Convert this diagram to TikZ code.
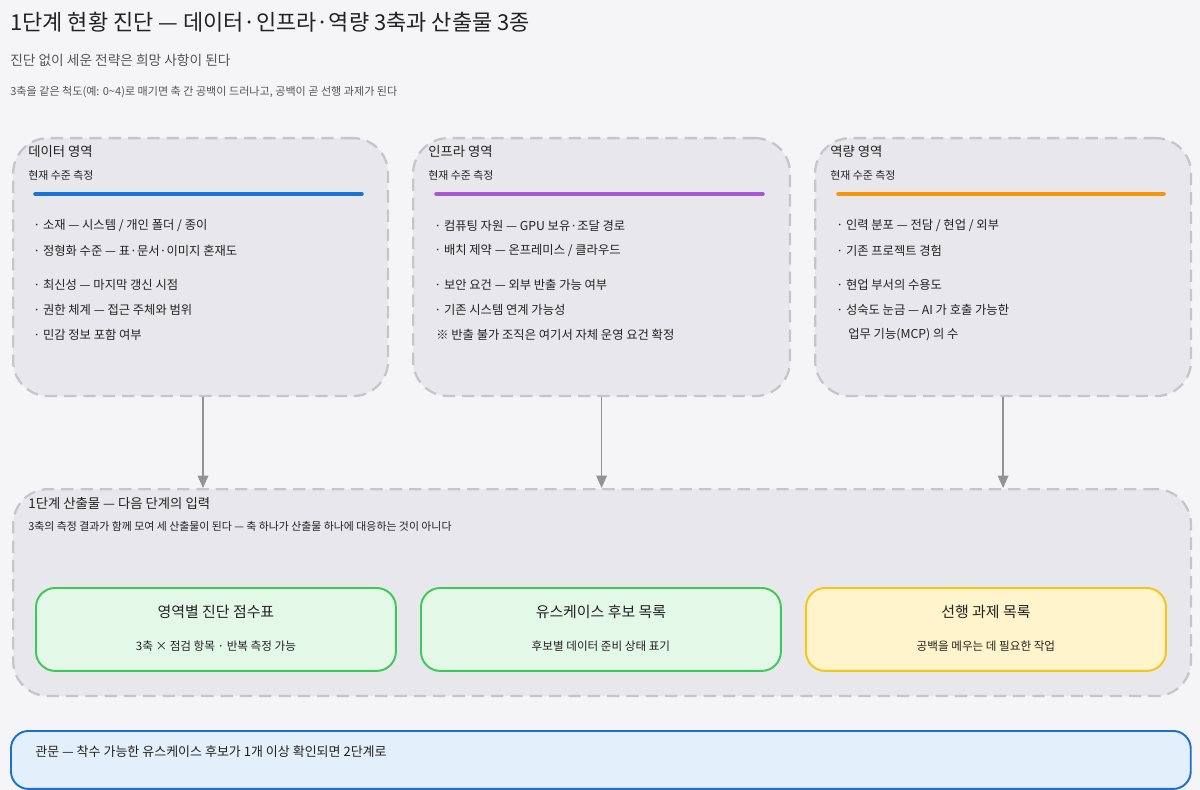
\documentclass[tikz,border=0pt]{standalone}
\usepackage{fontspec}
\setmainfont{Noto Sans CJK KR}
\usetikzlibrary{arrows.meta,positioning}
\definecolor{bg}{HTML}{F5F5F7}
\definecolor{panelfill}{HTML}{E8E8EC}
\definecolor{panelline}{HTML}{C6C6CA}
\definecolor{ink}{HTML}{222222}
\definecolor{grayink}{HTML}{555555}
\definecolor{dataline}{HTML}{1A73D9}
\definecolor{infraline}{HTML}{A855D6}
\definecolor{capline}{HTML}{F5960A}
\definecolor{greenfill}{HTML}{E3F8E6}
\definecolor{greenline}{HTML}{3CC85A}
\definecolor{yellowfill}{HTML}{FFF4CC}
\definecolor{yellowline}{HTML}{F5C518}
\definecolor{gatefill}{HTML}{E3F0FC}
\definecolor{gateline}{HTML}{1A6FD0}
\begin{document}
\begin{tikzpicture}[x=0.02cm,y=-0.02cm,>=Latex]
        \tikzset{panel/.style={draw=panelline,fill=panelfill,dashed,dash pattern=on 7pt off 4pt,line width=1.3pt,rounded corners=20pt,anchor=north west,inner sep=0pt},
        head/.style={anchor=west,font=\fontsize{7.6}{9}\selectfont,text=ink,inner sep=0pt},
        sub/.style={anchor=west,font=\fontsize{6.2}{8}\selectfont,text=ink,inner sep=0pt},
        item/.style={anchor=west,font=\fontsize{7}{9}\selectfont,text=ink,inner sep=0pt},
        outbox/.style={draw=greenline,fill=greenfill,line width=1.1pt,rounded corners=11pt,anchor=north west,minimum width=7.2cm,minimum height=1.66cm,inner sep=0pt},
        otitle/.style={font=\fontsize{8.5}{10}\selectfont,text=ink,inner sep=0pt},
        osub/.style={font=\fontsize{6.6}{8}\selectfont,text=ink,inner sep=0pt},
        flow/.style={draw=gray!85,line width=0.8pt,->,>={Triangle[length=7pt,width=6pt]}}}
        \useasboundingbox[fill=bg] (0,0) rectangle (1200,790);
        % header
        \node[anchor=west,inner sep=0pt,font=\fontsize{12.5}{14}\selectfont,text=ink] (title) at (10,22) {1단계 현황 진단 — 데이터·인프라·역량 3축과 산출물 3종};
        \node[anchor=west,inner sep=0pt,font=\fontsize{7.8}{9}\selectfont,text=grayink] (subtitle) at (10,60) {진단 없이 세운 전략은 희망 사항이 된다};
        \node[anchor=west,inner sep=0pt,font=\fontsize{6.3}{8}\selectfont,text=grayink] (note) at (10,92) {3축을 같은 척도(예: 0\textasciitilde 4)로 매기면 축 간 공백이 드러나고, 공백이 곧 선행 과제가 된다};
        % three axes
        \node[panel,minimum width=7.5cm,minimum height=5.16cm] (data) at (12,137) {};
        \node[panel,minimum width=7.54cm,minimum height=5.16cm] (infra) at (412,137) {};
        \node[panel,minimum width=7.52cm,minimum height=5.16cm] (cap) at (814,137) {};
        \node[head] (data_head) at (28,152) {데이터 영역};
        \node[sub] (data_sub) at (28,175) {현재 수준 측정};
        \draw[dataline,line width=2pt,line cap=round] (35,194) -- (362,194);
        \node[item] (data_a) at (33,226) {· 소재 — 시스템 / 개인 폴더 / 종이};
        \node[item] (data_b) at (33,251) {· 정형화 수준 — 표·문서·이미지 혼재도};
        \node[item] (data_c) at (33,285) {· 최신성 — 마지막 갱신 시점};
        \node[item] (data_d) at (33,310) {· 권한 체계 — 접근 주체와 범위};
        \node[item] (data_e) at (33,335) {· 민감 정보 포함 여부};
        \node[head] (infra_head) at (428,152) {인프라 영역};
        \node[sub] (infra_sub) at (428,175) {현재 수준 측정};
        \draw[infraline,line width=2pt,line cap=round] (436,194) -- (763,194);
        \node[item] (infra_a) at (434,226) {· 컴퓨팅 자원 — GPU 보유·조달 경로};
        \node[item] (infra_b) at (434,251) {· 배치 제약 — 온프레미스 / 클라우드};
        \node[item] (infra_c) at (434,285) {· 보안 요건 — 외부 반출 가능 여부};
        \node[item] (infra_d) at (434,310) {· 기존 시스템 연계 가능성};
        \node[item] (infra_e) at (436,335) {※ 반출 불가 조직은 여기서 자체 운영 요건 확정};
        \node[head] (cap_head) at (830,152) {역량 영역};
        \node[sub] (cap_sub) at (830,175) {현재 수준 측정};
        \draw[capline,line width=2pt,line cap=round] (838,194) -- (1164,194);
        \node[item] (cap_a) at (836,226) {· 인력 분포 — 전담 / 현업 / 외부};
        \node[item] (cap_b) at (836,251) {· 기존 프로젝트 경험};
        \node[item] (cap_c) at (836,285) {· 현업 부서의 수용도};
        \node[item] (cap_d) at (836,310) {· 성숙도 눈금 — AI 가 호출 가능한};
        \node[item] (cap_e) at (848,335) {업무 기능(MCP) 의 수};
        % outputs
        \node[panel,minimum width=23.56cm,minimum height=4.14cm] (out) at (12,488) {};
        \node[head] (out_head) at (28,503) {1단계 산출물 — 다음 단계의 입력};
        \node[sub] (out_sub) at (28,526) {3축의 측정 결과가 함께 모여 세 산출물이 된다 — 축 하나가 산출물 하나에 대응하는 것이 아니다};
        \node[outbox] (score) at (35,587) {};
        \node[outbox] (usecase) at (420,587) {};
        \node[outbox,draw=yellowline,fill=yellowfill] (prereq) at (805,587) {};
        \node[otitle] (score_t) at ([yshift=-0.5cm]score.north) {영역별 진단 점수표};
        \node[osub] (score_s) at ([yshift=0.52cm]score.south) {3축 × 점검 항목 · 반복 측정 가능};
        \node[otitle] (usecase_t) at ([yshift=-0.5cm]usecase.north) {유스케이스 후보 목록};
        \node[osub] (usecase_s) at ([yshift=0.52cm]usecase.south) {후보별 데이터 준비 상태 표기};
        \node[otitle] (prereq_t) at ([yshift=-0.5cm]prereq.north) {선행 과제 목록};
        \node[osub] (prereq_s) at ([yshift=0.52cm]prereq.south) {공백을 메우는 데 필요한 작업};
        % gate
        \node[draw=gateline,fill=gatefill,line width=1.1pt,rounded corners=10pt,anchor=north west,minimum width=23.6cm,minimum height=1.16cm,inner sep=0pt] (gate) at (10,730) {};
        \node[item,font=\fontsize{7.4}{9}\selectfont] (gate_t) at (35,752) {관문 — 착수 가능한 유스케이스 후보가 1개 이상 확인되면 2단계로};
%% paths
        \draw[flow] (data.south -| 203,0) -- (203,488);
        \path (data.south) ++(0,0) coordinate (d0);
        \draw[flow] (infra.south) -- (infra.south |- out.north);
        \draw[flow] (cap.south) -- (cap.south |- out.north);
    \end{tikzpicture}
\end{document}
